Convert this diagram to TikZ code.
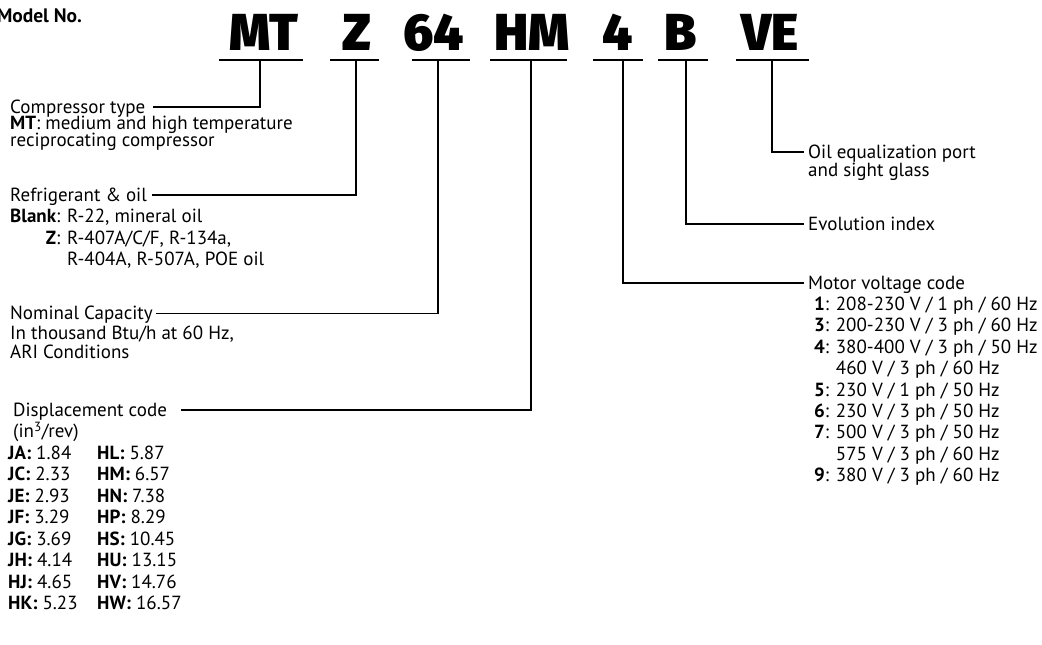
\documentclass[tikz,border=0pt]{standalone}
\usepackage{fontspec}
\setmainfont{PT Sans}
\IfFontExistsTF{Fira Sans Black}{\newfontfamily\bigfnt{Fira Sans Black}}{\newfontfamily\bigfnt{DejaVu Sans Bold}}
\tikzset{
  txt/.style={anchor=base west, inner sep=0pt, font=\fontsize{19}{22}\selectfont},
  big/.style={anchor=base, inner sep=0pt, font=\bigfnt\fontsize{52}{52}\selectfont},
  conn/.style={line width=1.8pt},
  uline/.style={line width=2pt}
}
\begin{document}
\begin{tikzpicture}[x=1pt,y=-1pt]
\useasboundingbox (0,0) rectangle (1042,645);
\node[anchor=base east, inner sep=0pt, font=\bfseries\fontsize{19.5}{20}\selectfont] (model) at (82,23) {Model No.};
% big letters
\node[big] (bMT) at (264,50) {MT};
\node[big] (bZ)  at (357,50) {Z};
\node[big] (b64) at (434,50) {64};
\node[big] (bHM) at (532,50) {HM};
\node[big] (b4)  at (618,50) {4};
\node[big] (bB)  at (681,50) {B};
\node[big] (bVE) at (770,50) {VE};
% underlines
\draw[uline] (219,60) -- (303,60);
\draw[uline] (330,60) -- (379,60);
\draw[uline] (412,60) -- (470,60);
\draw[uline] (490,60) -- (567,60);
\draw[uline] (593,60) -- (643,60);
\draw[uline] (658,60) -- (708,60);
\draw[uline] (736,60) -- (809,60);
\coordinate (sMT) at (260,60);
\coordinate (sZ)  at (356,60);
\coordinate (s64) at (438,60);
\coordinate (sHM) at (531,60);
\coordinate (s4)  at (623,60);
\coordinate (sB)  at (686,60);
\coordinate (sVE) at (772,60);
% left texts
\node[txt] (tCT)  at (10,113) {Compressor type};
\node[txt] (tCT2) at (10,129.7) {\textbf{MT}: medium and high temperature};
\node[txt] (tCT3) at (10,146.4) {reciprocating compressor};
\node[txt] (tRO)  at (10,201) {Refrigerant \& oil};
\node[txt] (tRO2) at (10,222.5) {\textbf{Blank}: R-22, mineral oil};
\node[txt] (tRO3) at (10,244) {{\hphantom{\textbf{Blank}}\llap{\textbf{Z}}}: R-407A/C/F, R-134a,};
\node[txt] (tRO4) at (10,265.5) {\hphantom{\textbf{Blank}: }R-404A, R-507A, POE oil};
\node[txt] (tNC)  at (10,319.5) {Nominal Capacity};
\node[txt] (tNC2) at (10,339.5) {In thousand Btu/h at 60 Hz,};
\node[txt] (tNC3) at (10,358.5) {ARI Conditions};
\node[txt] (tDC)  at (13,416) {Displacement code};
\node[txt] (tDC2) at (13,437.5) {(in\textsuperscript{3}/rev)};
\node[txt] (dJA) at (8,459)   {\textbf{JA:} 1.84};
\node[txt] (dHL) at (97,459)  {\textbf{HL:} 5.87};
\node[txt] (dJC) at (8,480.5) {\textbf{JC:} 2.33};
\node[txt] (dHM) at (97,480.5){\textbf{HM:} 6.57};
\node[txt] (dJE) at (8,502)   {\textbf{JE:} 2.93};
\node[txt] (dHN) at (97,502)  {\textbf{HN:} 7.38};
\node[txt] (dJF) at (8,523.5) {\textbf{JF:} 3.29};
\node[txt] (dHP) at (97,523.5){\textbf{HP:} 8.29};
\node[txt] (dJG) at (8,545)   {\textbf{JG:} 3.69};
\node[txt] (dHS) at (97,545)  {\textbf{HS:} 10.45};
\node[txt] (dJH) at (8,566.5) {\textbf{JH:} 4.14};
\node[txt] (dHU) at (97,566.5){\textbf{HU:} 13.15};
\node[txt] (dHJ) at (8,588)   {\textbf{HJ:} 4.65};
\node[txt] (dHV) at (97,588)  {\textbf{HV:} 14.76};
\node[txt] (dHK) at (8,609.5) {\textbf{HK:} 5.23};
\node[txt] (dHW) at (97,609.5){\textbf{HW:} 16.57};
% right texts
\node[txt] (tOE)  at (808,158) {Oil equalization port};
\node[txt] (tOE2) at (808,176.5) {and sight glass};
\node[txt] (tEI)  at (808,230) {Evolution index};
\node[txt] (tMV)  at (808,289) {Motor voltage code};
\node[txt] (v1) at (814,310.4) {\textbf{1}: 208-230 V / 1 ph / 60 Hz};
\node[txt] (v3) at (814,331.8) {\textbf{3}: 200-230 V / 3 ph / 60 Hz};
\node[txt] (v4) at (814,353.2) {\textbf{4}: 380-400 V / 3 ph / 50 Hz};
\node[txt] (v4b) at (814,374.6) {\hphantom{\textbf{4}: }460 V / 3 ph / 60 Hz};
\node[txt] (v5) at (814,396) {\textbf{5}: 230 V / 1 ph / 50 Hz};
\node[txt] (v6) at (814,417.4) {\textbf{6}: 230 V / 3 ph / 50 Hz};
\node[txt] (v7) at (814,438.8) {\textbf{7}: 500 V / 3 ph / 50 Hz};
\node[txt] (v7b) at (814,460.2) {\hphantom{\textbf{7}: }575 V / 3 ph / 60 Hz};
\node[txt] (v9) at (814,481.6) {\textbf{9}: 380 V / 3 ph / 60 Hz};
% connectors
\draw[conn] (sMT) |- ([xshift=7pt,yshift=6pt]tCT.base east);
\draw[conn] (sZ)  |- ([xshift=5pt,yshift=6pt]tRO.base east);
\draw[conn] (s64) |- ([xshift=3pt,yshift=6pt]tNC.base east);
\draw[conn] (sHM) |- ([xshift=14pt,yshift=6pt]tDC.base east);
\draw[conn] (s4)  |- ([xshift=-4pt,yshift=6pt]tMV.base west);
\draw[conn] (sB)  |- ([xshift=-4pt,yshift=6pt]tEI.base west);
\draw[conn] (sVE) |- ([xshift=-4pt,yshift=6pt]tOE.base west);
\end{tikzpicture}
\end{document}
